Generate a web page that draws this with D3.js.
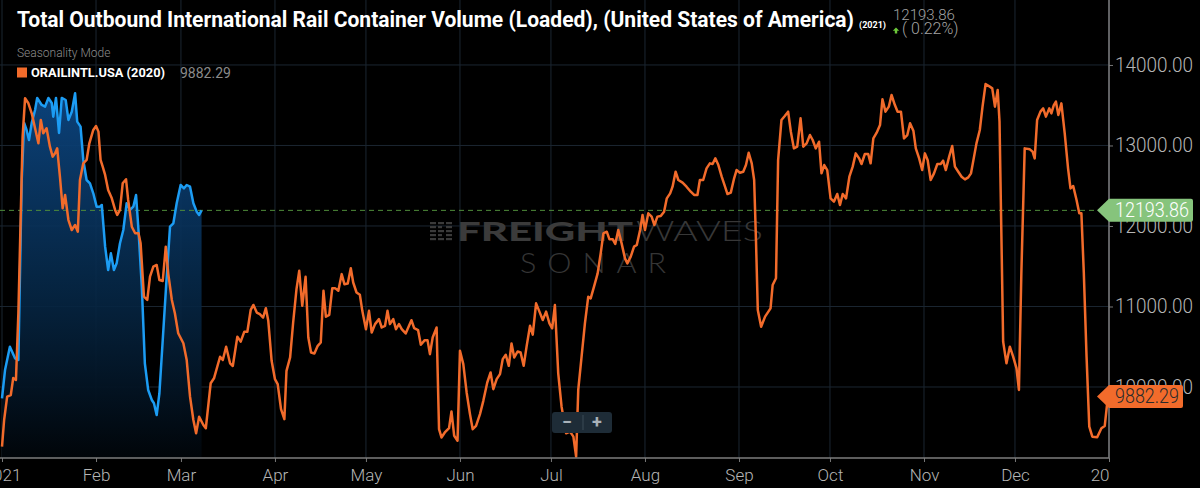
<!DOCTYPE html>
<html>
<head>
<meta charset="utf-8">
<script src="https://cdn.jsdelivr.net/npm/d3@7"></script>
<style>
  html, body { margin: 0; padding: 0; background: #000; overflow: hidden; }
  svg { display: block; }
</style>
</head>
<body>
<div class="chart"></div>
<script>
// 2021 series (blue), days since Jan 1 2021
const blueDay = [0, 1, 2.6, 4.3, 5.4, 6.5, 7.3, 8.1, 8.9, 9.8, 10.9, 11.6, 13.1, 14.2, 15.3, 16.4, 16.9, 17.8, 18.8, 19.7,
  21, 21.9, 23, 24.1, 24.8, 25.9, 26.8, 27.9, 29, 30.1, 31.2, 32.3, 32.9, 34, 35, 35.9, 36.9, 37.8, 38.9, 40,
  41.1, 42.2, 43.3, 44.2, 45, 46.1, 47.1, 48.2, 49.4, 50.1, 51, 51.9, 53, 54.1, 55.4, 56.5, 57.6, 58.9, 60, 60.9,
  62, 63.1, 64.2, 65, 65.8];
const blueVal = [9860, 10211, 10500, 10356, 10335, 12571, 13280, 13193, 13068, 13280, 13441, 13590, 13503, 13482, 13590, 13528, 13358, 13590, 13155, 13590,
  13565, 13317, 13420, 13648, 13296, 13234, 12820, 12571, 12530, 12406, 12240, 12240, 12261, 11743, 11453, 11660, 11453, 11536, 11785, 11950,
  12282, 12199, 12240, 12385, 11950, 11246, 10294, 9963, 9839, 9798, 9652, 9922, 10584, 11246, 11991, 12033, 12282, 12509, 12468, 12509,
  12488, 12282, 12178, 12137, 12193.86];

// 2020 series (orange) laid on the 2021 calendar
const orangeDay = [0, 0.7, 1.7, 2.9, 3.7, 4.6, 5.4, 6.2, 6.8, 7.6, 8.7, 9.8, 10.9, 12, 12.8, 13.6, 14.7, 15.8, 16.7, 17.5,
  18.2, 19.1, 20, 20.8, 21.9, 23, 24.1, 25, 25.7, 26.8, 27.9, 28.8, 30.1, 31, 31.8, 32.5, 33.2, 34, 35, 36.2,
  37.3, 38, 38.9, 39.8, 40.9, 41.6, 42.8, 43.9, 45, 45.7, 46.8, 47.9, 48.8, 49.9, 51, 51.9, 53, 54, 54.8, 56,
  57, 58.1, 59.8, 60.9, 62, 63.1, 64, 65, 66.4, 67.2, 68.8, 69.9, 71.9, 72.8, 73.9, 75.2, 76.1, 77.6, 78.7, 79.9,
  80.9, 82, 82.9, 84, 85, 86.1, 87, 87.8, 88.9, 90, 90.9, 92, 93.1, 93.8, 95, 96, 97.1, 98, 99, 100.1,
  101, 101.9, 103, 104.1, 105.1, 106, 106.8, 107.9, 108.9, 109.8, 110.9, 112, 112.9, 114, 115, 115.8, 116.9, 118, 118.8, 120,
  121, 121.9, 123, 124.3, 125.2, 126.3, 127.1, 127.9, 129, 129.9, 130.9, 131.8, 133.1, 134.2, 135, 135.9, 137.2, 138.1, 139.4, 140.3,
  141.1, 142, 143.3, 144.1, 144.9, 146, 147.4, 148.2, 149.1, 150.2, 151, 152.1, 153.2, 154.3, 155.2, 156.3, 157.6, 158.7, 160, 161.1,
  162, 163.1, 164.2, 165.1, 166.1, 167.1, 168, 168.9, 170, 171, 172, 173, 174.1, 175, 176.1, 177.2, 178.3, 179.4, 180.5, 181.4,
  182.3, 183.4, 184.5, 186, 187.3, 188.4, 189.3, 190, 191.1, 192.2, 193.3, 194.1, 195.2, 196.4, 197.4, 198.3, 199.4, 200.3, 201.4, 202.2,
  203.2, 204.3, 205.4, 206.2, 207.3, 208.4, 209.3, 210.4, 211.2, 212, 213.1, 214.2, 215.1, 216.1, 217.2, 218.3, 219.2, 220.3, 221.1, 222.1,
  223, 224.4, 225.7, 227.1, 228.2, 229.3, 230.1, 231.2, 232.3, 233.4, 234.3, 235.2, 236.2, 237.3, 238.4, 239.2, 240.3, 241.4, 242.2, 243.3,
  244.4, 245.3, 246.2, 247.2, 248, 248.6, 249.2, 250.3, 251.6, 253.4, 254.1, 255.2, 255.9, 257, 258.1, 259.2, 260.1, 261.1, 262.2, 263.3,
  264.2, 265.3, 266.4, 267.3, 268.3, 269.4, 270.2, 271.1, 272.1, 273.2, 274.3, 275.4, 276.3, 277.2, 278.3, 279.4, 280.5, 281.5, 282.6, 283.4,
  284.5, 285.6, 286.4, 287.3, 288.4, 289.5, 290.3, 291.3, 292.4, 293.3, 294.4, 295.3, 296.4, 297.4, 298.5, 299.4, 300.5, 301.3, 302.4, 303.4,
  304.3, 305.2, 306.2, 307.3, 308.4, 309.5, 310.3, 311.2, 312.3, 313.3, 314.2, 315.3, 316.4, 317.5, 318.6, 319.5, 320.4, 321.3, 322.4, 323.3,
  324.3, 325.4, 326.5, 327.4, 328.3, 328.9, 330.1, 331.2, 332.3, 333.4, 334.5, 335.3, 336.1, 337.2, 338.9, 339.8, 340.5, 341.3, 342.4, 343.3,
  344.2, 345.3, 346, 346.8, 347.5, 348.3, 349.3, 350.4, 351.5, 352.3, 353.2, 354.3, 355.2, 355.9, 356.7, 357.6, 358.5, 359.5, 361.1, 362.5,
  363.6, 364.4, 364.7];
const orangeVal = [9259, 9590, 9880, 9900, 10112, 10087, 10919, 12161, 13110, 13586, 13524, 13400, 13214, 13027, 13317, 13151, 13214, 12985, 12861, 12903,
  12965, 12612, 12220, 12385, 12074, 11950, 12012, 11929, 12571, 12779, 12820, 13027, 13193, 13242, 13172, 12820, 12737, 12634, 12447, 12344,
  12199, 12137, 12199, 12530, 12580, 12323, 11991, 11909, 11909, 11785, 11122, 11081, 11370, 11494, 11516, 11329, 11317, 11743, 11412, 11081,
  10915, 10667, 10543, 10335, 9880, 9590, 9425, 9631, 9528, 9487, 10046, 10108, 10376, 10335, 10500, 10294, 10261, 10625, 10563, 10687,
  10687, 10957, 11019, 10925, 10905, 10863, 10979, 10822, 10325, 10097, 10035, 9725, 9601, 10201, 10367, 10801, 11215, 11443, 11008, 11368,
  10615, 10429, 10416, 10511, 10553, 11195, 10872, 10896, 11228, 11228, 11195, 11402, 11277, 11286, 11476, 11298, 11174, 11145, 10946, 10718,
  10946, 10677, 10781, 10843, 10739, 10760, 10946, 10781, 10843, 10718, 10781, 10718, 10665, 10760, 10830, 10731, 10706, 10524, 10582, 10582,
  10408, 10615, 10739, 9476, 9373, 9435, 9489, 9696, 9394, 9332, 10449, 10284, 9932, 9663, 9476, 9518, 9663, 9828, 10056, 10180,
  9973, 10098, 10160, 10346, 10400, 10263, 10540, 10367, 10441, 10429, 10263, 10511, 10760, 10650, 11039, 10936, 10832, 10936, 10791, 10729,
  11018, 10170, 9756, 9425, 9445, 9383, 9135, 9963, 10377, 10791, 11122, 11101, 11246, 11412, 11660, 11909, 11929, 11834, 11834, 11776,
  11950, 11784, 11598, 11536, 11619, 11743, 11764, 11950, 12136, 11950, 12157, 12116, 12012, 12116, 12124, 12178, 12343, 12405, 12488, 12674,
  12571, 12538, 12488, 12426, 12385, 12385, 12571, 12571, 12716, 12778, 12770, 12840, 12757, 12612, 12488, 12397, 12414, 12592, 12695, 12662,
  12674, 12757, 12910, 12778, 12571, 11826, 10956, 10749, 10874, 10977, 11267, 11350, 12819, 13316, 13366, 13420, 13171, 12964, 12985, 13337,
  12985, 13026, 13130, 13068, 12964, 13047, 12654, 12757, 12695, 12343, 12302, 12397, 12260, 12397, 12343, 12612, 12737, 12902, 12840, 12770,
  12894, 12894, 12778, 13088, 13159, 13254, 13573, 13420, 13482, 13627, 13502, 13420, 13420, 13088, 13130, 13275, 13184, 12964, 12840, 12695,
  12902, 12819, 12571, 12654, 12770, 12770, 12811, 12695, 12861, 12993, 12737, 12674, 12612, 12579, 12604, 12654, 12840, 13026, 13192, 13482,
  13763, 13738, 13709, 13482, 13689, 13300, 10563, 10294, 10501, 10377, 10232, 9963, 11412, 12964, 12952, 12923, 12840, 13316, 13420, 13461,
  13358, 13461, 13399, 13502, 13544, 13378, 13523, 13151, 12716, 12467, 12496, 12322, 12157, 12157, 11412, 10377, 9507, 9383, 9375, 9487,
  9516, 9797, 9882.29];

const yTicks = [10000, 11000, 12000, 13000, 14000];
const lastBlue = 12193.86;
const lastOrange = 9882.29;
const changePct = 0.22;

const W = 1200, H = 488;
const plotRight = 1109, plotBottom = 458;
const fontFamily = 'Roboto, "Open Sans", sans-serif';
const ORANGE = '#f26b2b', BLUE = '#1c9cf3', GREEN_TAG = '#86c47c';

const t0 = Date.UTC(2021, 0, 1);
const toDate = d => new Date(t0 + d * 864e5);

const x = d3.scaleUtc()
  .domain([new Date(t0), new Date(Date.UTC(2022, 0, 1))])
  .range([2, plotRight]);
const y = d3.scaleLinear()
  .domain([9118, 14807])
  .range([plotBottom, 0]);

const blue = blueDay.map((d, i) => ({date: toDate(d), value: blueVal[i]}));
const orange = orangeDay.map((d, i) => ({date: toDate(d), value: orangeVal[i]}));

const svg = d3.select('.chart').append('svg')
  .attr('width', W)
  .attr('height', H)
  .attr('font-family', fontFamily);

svg.append('rect').attr('width', W).attr('height', H).attr('fill', '#000');

const defs = svg.append('defs');
defs.append('clipPath').attr('id', 'plotClip')
  .append('rect').attr('x', 0).attr('y', 0).attr('width', plotRight).attr('height', plotBottom);
// 축 그룹이 translate 되어 있으므로 로컬 좌표 기준
defs.append('clipPath').attr('id', 'xLabelClip')
  .append('rect').attr('x', -20).attr('y', -2).attr('width', plotRight + 21).attr('height', 40);
const grad = defs.append('linearGradient').attr('id', 'blueFill')
  .attr('gradientUnits', 'userSpaceOnUse')
  .attr('x1', 0).attr('x2', 0).attr('y1', y(d3.max(blueVal))).attr('y2', plotBottom);
grad.append('stop').attr('offset', 0).attr('stop-color', '#0c4580').attr('stop-opacity', 0.95);
grad.append('stop').attr('offset', 0.55).attr('stop-color', '#062746').attr('stop-opacity', 0.9);
grad.append('stop').attr('offset', 1).attr('stop-color', '#010509').attr('stop-opacity', 1);

/* 그리드 */
const months = x.ticks(d3.utcMonth.every(1));
const grid = svg.append('g').attr('class', 'grid');
grid.selectAll('line.v')
  .data(months)
  .join('line')
    .attr('class', 'v')
    .attr('x1', d => x(d)).attr('x2', d => x(d))
    .attr('y1', 0).attr('y2', plotBottom)
    .attr('stroke', '#1b2631').attr('stroke-width', 1);
grid.selectAll('line.h')
  .data(yTicks)
  .join('line')
    .attr('class', 'h')
    .attr('x1', 0).attr('x2', plotRight)
    .attr('y1', d => y(d)).attr('y2', d => y(d))
    .attr('stroke', '#1b2631').attr('stroke-width', 1);

/* 워터마크 */
const wm = svg.append('g').attr('class', 'watermark');
for (let r = 0; r < 5; r++) {
  for (let c = 0; c < 3; c++) {
    wm.append('rect')
      .attr('x', 430 + c * 8).attr('y', 222 + r * 4)
      .attr('width', c === 1 && r % 2 ? 4 : 6).attr('height', 2.2)
      .attr('fill', '#3a3a3a');
  }
}
wm.append('text')
  .attr('x', 457).attr('y', 241)
  .attr('font-family', 'Lato, "Open Sans", sans-serif')
  .attr('font-weight', 900).attr('font-size', 27)
  .attr('textLength', 176).attr('lengthAdjust', 'spacingAndGlyphs')
  .attr('fill', '#3b3b3b')
  .text('FREIGHT');
wm.append('text')
  .attr('x', 636).attr('y', 241)
  .attr('font-family', 'Lato, "Open Sans", sans-serif')
  .attr('font-weight', 300).attr('font-size', 27)
  .attr('textLength', 127).attr('lengthAdjust', 'spacingAndGlyphs')
  .attr('fill', '#373737')
  .text('WAVES');
wm.append('text')
  .attr('x', 520).attr('y', 273)
  .attr('font-family', 'Lato, "Open Sans", sans-serif')
  .attr('font-weight', 300).attr('font-size', 28)
  .attr('letter-spacing', 10)
  .attr('textLength', 157).attr('lengthAdjust', 'spacingAndGlyphs')
  .attr('fill', '#353535')
  .text('SONAR');

/* 시리즈 */
const plot = svg.append('g').attr('clip-path', 'url(#plotClip)');

plot.append('path')
  .datum(blue)
  .attr('fill', 'url(#blueFill)')
  .attr('d', d3.area().x(d => x(d.date)).y0(plotBottom).y1(d => y(d.value)));

// 기준선(최신값)
plot.append('line')
  .attr('x1', 0).attr('x2', 1098)
  .attr('y1', y(lastBlue)).attr('y2', y(lastBlue))
  .attr('stroke', '#4f8d3b').attr('stroke-width', 1)
  .attr('stroke-dasharray', '5,4');

plot.append('path')
  .datum(blue)
  .attr('fill', 'none')
  .attr('stroke', BLUE).attr('stroke-width', 2.5)
  .attr('stroke-linejoin', 'round')
  .attr('d', d3.line().x(d => x(d.date)).y(d => y(d.value)));

plot.append('path')
  .datum(orange)
  .attr('fill', 'none')
  .attr('stroke', ORANGE).attr('stroke-width', 2.5)
  .attr('stroke-linejoin', 'round')
  .attr('d', d3.line().x(d => x(d.date)).y(d => y(d.value)));

/* 축 */
const xAxis = svg.append('g')
  .attr('transform', `translate(0,${plotBottom})`)
  .attr('clip-path', 'url(#xLabelClip)')
  .call(d3.axisBottom(x)
    .ticks(d3.utcMonth.every(1))
    .tickFormat(d => d.getUTCMonth() === 0 ? d3.utcFormat('%Y')(d) : d3.utcFormat('%b')(d))
    .tickSize(4).tickSizeOuter(0).tickPadding(7));
xAxis.select('.domain').remove();
xAxis.selectAll('.tick line').attr('stroke', '#777');
xAxis.selectAll('.tick text')
  .attr('fill', '#b5b5b5').attr('font-size', 17).attr('font-weight', 300)
  .attr('font-family', fontFamily);
svg.append('line')
  .attr('x1', 0).attr('x2', plotRight)
  .attr('y1', plotBottom).attr('y2', plotBottom)
  .attr('stroke', '#7c7c7c').attr('stroke-width', 1.5);

const yAxis = svg.append('g')
  .attr('transform', `translate(${plotRight},0)`)
  .call(d3.axisRight(y).tickValues(yTicks).tickFormat(d3.format('.2f')).tickSize(4).tickPadding(2));
yAxis.select('.domain').remove();
yAxis.selectAll('.tick line').attr('stroke', '#777');
yAxis.selectAll('.tick text')
  .attr('fill', '#b5b5b5').attr('font-size', 20).attr('font-weight', 300)
  .attr('font-family', fontFamily)
  .attr('textLength', 78).attr('lengthAdjust', 'spacingAndGlyphs');
svg.append('line')
  .attr('x1', plotRight).attr('x2', plotRight)
  .attr('y1', 0).attr('y2', plotBottom)
  .attr('stroke', '#7c7c7c').attr('stroke-width', 1.5);

/* 가격 태그 */
function priceTag(value, right, fill, textColor) {
  const cy = y(value), h = 23, tip = 1097, body = 1109;
  const g = svg.append('g');
  g.append('path')
    .attr('d', `M${tip},${cy} L${body},${cy - h / 2} L${right - 2},${cy - h / 2} Q${right},${cy - h / 2} ${right},${cy - h / 2 + 2}
      L${right},${cy + h / 2 - 2} Q${right},${cy + h / 2} ${right - 2},${cy + h / 2} L${body},${cy + h / 2} Z`)
    .attr('fill', fill);
  g.append('text')
    .attr('x', (body + right) / 2 + 1).attr('y', cy + 7)
    .attr('text-anchor', 'middle')
    .attr('font-size', 20).attr('font-weight', 300)
    .attr('fill', textColor)
    .attr('textLength', right - body - 10).attr('lengthAdjust', 'spacingAndGlyphs')
    .text(d3.format('.2f')(value));
}
priceTag(lastBlue, 1193, GREEN_TAG, '#ffffff');
priceTag(lastOrange, 1183, ORANGE, '#2b2b2b');

/* 제목 */
svg.append('text')
  .attr('x', 17).attr('y', 27)
  .attr('font-size', 22).attr('font-weight', 700)
  .attr('fill', '#ffffff')
  .attr('textLength', 837).attr('lengthAdjust', 'spacingAndGlyphs')
  .text('Total Outbound International Rail Container Volume (Loaded), (United States of America)');
svg.append('text')
  .attr('x', 859).attr('y', 28)
  .attr('font-size', 9).attr('font-weight', 700)
  .attr('fill', '#ffffff')
  .text('(2021)');
svg.append('text')
  .attr('x', 893).attr('y', 20)
  .attr('font-size', 15).attr('font-weight', 300)
  .attr('fill', '#a3a3a3')
  .text(d3.format('.2f')(lastBlue));
svg.append('path')
  .attr('d', 'M896,27.5 L899.2,30.8 L897.2,30.8 L897.2,33.5 L894.8,33.5 L894.8,30.8 L892.8,30.8 Z')
  .attr('fill', '#6cc83a');
svg.append('text')
  .attr('x', 902).attr('y', 34)
  .attr('font-size', 16).attr('font-weight', 300)
  .attr('fill', '#a3a3a3')
  .text(`( ${changePct.toFixed(2)}%)`);

/* 범례 */
svg.append('text')
  .attr('x', 17).attr('y', 57)
  .attr('font-size', 12).attr('font-weight', 300)
  .attr('fill', '#8c8c8c')
  .text('Seasonality Mode');
svg.append('rect')
  .attr('x', 17).attr('y', 67.5).attr('width', 10).attr('height', 10)
  .attr('fill', ORANGE);
svg.append('text')
  .attr('x', 31).attr('y', 77)
  .attr('font-size', 12.5).attr('font-weight', 700)
  .attr('fill', '#ffffff')
  .attr('textLength', 134).attr('lengthAdjust', 'spacingAndGlyphs')
  .text('ORAILINTL.USA (2020)');
svg.append('text')
  .attr('x', 180).attr('y', 77.5)
  .attr('font-size', 14).attr('font-weight', 400)
  .attr('fill', '#8a8a8a')
  .text(d3.format('.2f')(lastOrange));

/* 확대/축소 버튼 */
const zoomBtn = svg.append('g');
zoomBtn.append('rect')
  .attr('x', 552).attr('y', 412).attr('width', 60).attr('height', 21).attr('rx', 3)
  .attr('fill', '#1e2c37');
zoomBtn.append('line')
  .attr('x1', 583).attr('x2', 583).attr('y1', 415).attr('y2', 430)
  .attr('stroke', '#3b4a56');
zoomBtn.append('text')
  .attr('x', 567).attr('y', 428).attr('text-anchor', 'middle')
  .attr('font-size', 18).attr('font-weight', 700).attr('fill', '#a9b2b9')
  .text('−');
zoomBtn.append('text')
  .attr('x', 597).attr('y', 428).attr('text-anchor', 'middle')
  .attr('font-size', 18).attr('font-weight', 700).attr('fill', '#a9b2b9')
  .text('+');
</script>
</body>
</html>
